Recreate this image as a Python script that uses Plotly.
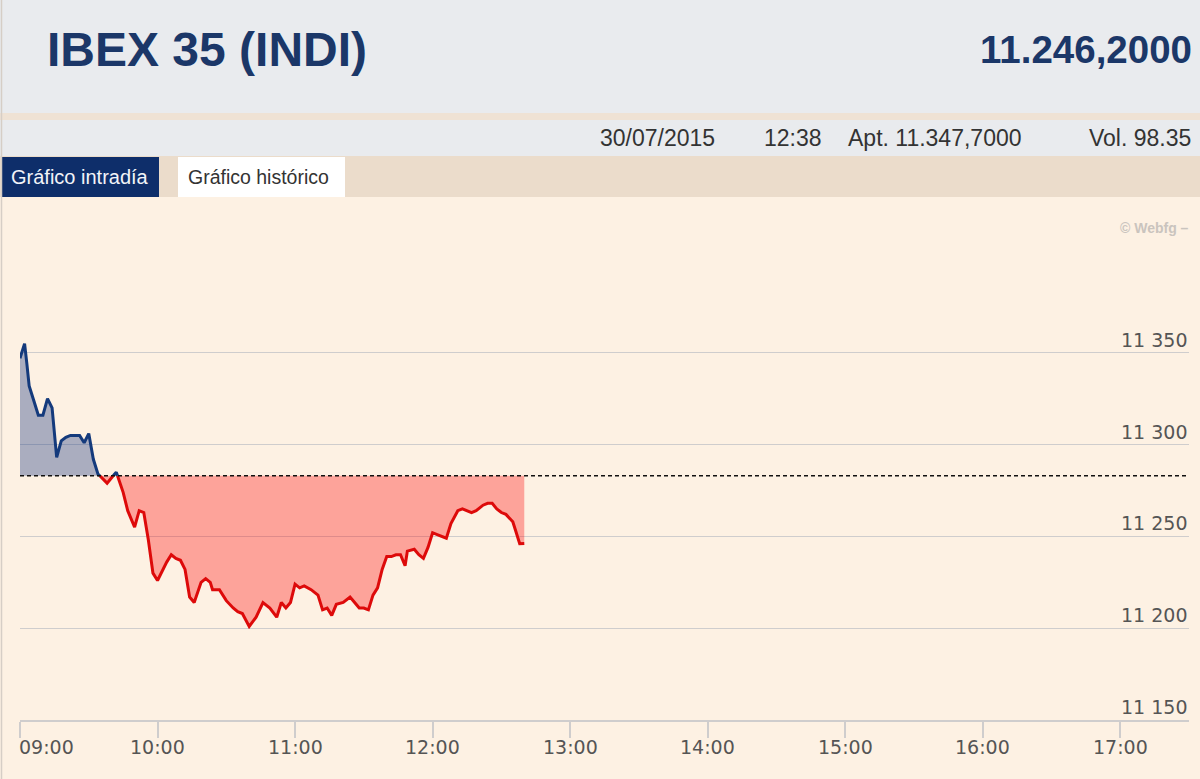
import plotly.graph_objects as go
import pandas as pd

# ---------------- data ----------------
day = "2015-07-30"
times = ["09:00", "09:02", "09:03", "09:04", "09:06", "09:08", "09:10", "09:12", "09:14", "09:15",
         "09:16", "09:18", "09:20", "09:22", "09:24", "09:26", "09:28", "09:30", "09:32", "09:34",
         "09:38", "09:42", "09:45", "09:47", "09:50", "09:52", "09:54", "09:56", "09:58", "10:00",
         "10:03", "10:04", "10:06", "10:08", "10:10", "10:12", "10:14", "10:16", "10:19", "10:21",
         "10:23", "10:24", "10:27", "10:30", "10:33", "10:35", "10:37", "10:40", "10:43", "10:46",
         "10:49", "10:52", "10:54", "10:56", "10:58", "11:00", "11:02", "11:04", "11:07", "11:09",
         "11:10", "11:12", "11:14", "11:16", "11:18", "11:21", "11:24", "11:26", "11:28", "11:30",
         "11:32", "11:34", "11:36", "11:38", "11:40", "11:42", "11:44", "11:46", "11:48", "11:49",
         "11:52", "11:54", "11:56", "11:58", "12:00", "12:02", "12:04", "12:06", "12:08", "12:11",
         "12:13", "12:15", "12:17", "12:19", "12:22", "12:24", "12:26", "12:28", "12:30", "12:32",
         "12:35", "12:36", "12:38", "12:40"]
values = [11347, 11355, 11344, 11332, 11324, 11316, 11316, 11325, 11320, 11308,
          11293, 11302, 11304, 11305, 11305, 11305, 11301, 11306, 11292, 11284,
          11279, 11285, 11274, 11264, 11255, 11264, 11263, 11248, 11230, 11226,
          11234, 11236, 11240, 11238, 11237, 11232, 11217, 11214, 11225, 11227,
          11225, 11221, 11221, 11215, 11211, 11209, 11208, 11201, 11206, 11214,
          11211, 11206, 11214, 11211, 11214, 11224, 11222, 11223, 11221, 11219,
          11218, 11210, 11211, 11207, 11213, 11214, 11217, 11214, 11211, 11211,
          11210, 11218, 11222, 11232, 11239, 11239, 11240, 11240, 11234, 11242,
          11243, 11240, 11238, 11244, 11252, 11251, 11250, 11249, 11257, 11264,
          11265, 11264, 11263, 11264, 11267, 11268, 11268, 11265, 11263, 11262,
          11258, 11254, 11246, 11246.2]
prev_close = 11283

x_tick_times = ["09:00", "10:00", "11:00", "12:00", "13:00", "14:00", "15:00", "16:00", "17:00"]
y_grid_vals = [11150, 11200, 11250, 11300, 11350, 11400]
y_label_vals = [11150, 11200, 11250, 11300, 11350]
y_label_text = ["11 150", "11 200", "11 250", "11 300", "11 350"]
x_range = ["09:00", "17:30"]

title_text = "IBEX 35 (INDI)"
last_text = "11.246,2000"
info_texts = ["30/07/2015", "12:38", "Apt. 11.347,7000", "Vol. 98.35"]
tab_texts = ["Gráfico intradía", "Gráfico histórico"]
credit_text = "© Webfg –"

# ---------------- styles ----------------
BG = "#FDF1E3"
HEAD_BG = "#E9EBEE"
TAB_ROW_BG = "#EBDCCB"
NAVY = "#0E2E6A"
BLUE_LINE = "#143A7C"
BLUE_FILL = "rgba(26,58,130,0.37)"
RED_LINE = "#DD0A0A"
RED_FILL = "rgba(255,0,0,0.32)"
GRID = "#CFCDCD"
W, H = 1200, 779
ML, MR, MT, MB = 20, 11, 261, 59
PW = W - ML - MR
PH = H - MT - MB


def PX(px):
    return (px - ML) / PW


def PY(py):
    return (H - MB - py) / PH


t = pd.to_datetime([f"{day} {s}" for s in times])

# insert crossings with the previous close so colours switch exactly at the line
pts_t, pts_v = [], []
for i in range(len(values)):
    if i > 0 and (values[i - 1] - prev_close) * (values[i] - prev_close) < 0:
        f = (prev_close - values[i - 1]) / (values[i] - values[i - 1])
        pts_t.append(t[i - 1] + (t[i] - t[i - 1]) * f)
        pts_v.append(prev_close)
    pts_t.append(t[i])
    pts_v.append(values[i])

above = [max(v, prev_close) for v in pts_v]
below = [min(v, prev_close) for v in pts_v]
above_line = [v if v >= prev_close else None for v in pts_v]
below_line = [v if v <= prev_close else None for v in pts_v]
base = [prev_close] * len(pts_v)

fig = go.Figure()
fig.add_trace(go.Scatter(x=pts_t, y=base, mode="lines", line=dict(width=0), hoverinfo="skip", showlegend=False))
fig.add_trace(go.Scatter(x=pts_t, y=above, mode="lines", line=dict(width=0), fill="tonexty",
                         fillcolor=BLUE_FILL, hoverinfo="skip", showlegend=False))
fig.add_trace(go.Scatter(x=pts_t, y=base, mode="lines", line=dict(width=0), hoverinfo="skip", showlegend=False))
fig.add_trace(go.Scatter(x=pts_t, y=below, mode="lines", line=dict(width=0), fill="tonexty",
                         fillcolor=RED_FILL, hoverinfo="skip", showlegend=False))
fig.add_trace(go.Scatter(x=pts_t, y=below_line, mode="lines", connectgaps=False,
                         line=dict(color=RED_LINE, width=3), showlegend=False))
fig.add_trace(go.Scatter(x=pts_t, y=above_line, mode="lines", connectgaps=False,
                         line=dict(color=BLUE_LINE, width=3), showlegend=False))

shapes = []


def rect(x0, y0, x1, y1, color):
    shapes.append(dict(type="rect", xref="paper", yref="paper", x0=PX(x0), x1=PX(x1), y0=PY(y1), y1=PY(y0),
                       fillcolor=color, line=dict(width=0), layer="below"))


rect(-2, -2, 1202, 114, HEAD_BG)
rect(-2, 113, 1202, 120, "#EFE2D4")
rect(-2, 120, 1202, 156, HEAD_BG)
rect(-2, 156, 1202, 197, TAB_ROW_BG)
rect(2, 157, 159, 197, NAVY)
rect(178, 157, 345, 197, "#FFFFFF")
shapes.append(dict(type="line", xref="paper", yref="paper", x0=PX(1.5), x1=PX(1.5), y0=PY(781), y1=PY(-2),
                   line=dict(color="#D6CEC6", width=1.5), layer="below"))
# previous close dashed line
shapes.append(dict(type="line", xref="paper", yref="y", x0=0, x1=1, y0=prev_close, y1=prev_close,
                   line=dict(color="#111111", width=1.5, dash="4px,3px"), layer="above"))

ann = []
HF = "Arial, Liberation Sans, sans-serif"
AF = "DejaVu Sans, Verdana, sans-serif"
ann.append(dict(xref="paper", yref="paper", x=PX(45), y=PY(49), xanchor="left", yanchor="middle",
                text=f"<b>{title_text}</b>", showarrow=False, font=dict(family=HF, size=48, color="#1B3768")))
ann.append(dict(xref="paper", yref="paper", x=PX(978), y=PY(49), xanchor="left", yanchor="middle",
                text=f"<b>{last_text}</b>", showarrow=False, font=dict(family=HF, size=38.5, color="#1B3768")))
for txt, px in zip(info_texts, [598, 762, 846, 1087]):
    ann.append(dict(xref="paper", yref="paper", x=PX(px), y=PY(138), xanchor="left", yanchor="middle",
                    text=txt, showarrow=False, font=dict(family=HF, size=23, color="#333333")))
ann.append(dict(xref="paper", yref="paper", x=PX(9), y=PY(177), xanchor="left", yanchor="middle",
                text=tab_texts[0], showarrow=False, font=dict(family=HF, size=20, color="#F2F4F8")))
ann.append(dict(xref="paper", yref="paper", x=PX(186), y=PY(177), xanchor="left", yanchor="middle",
                text=tab_texts[1], showarrow=False, font=dict(family=HF, size=19.5, color="#333333")))
ann.append(dict(xref="paper", yref="paper", x=PX(1191), y=PY(228), xanchor="right", yanchor="middle",
                text=f"<b>{credit_text}</b>", showarrow=False, font=dict(family=HF, size=14, color="#CAC4BE")))

for v, txt in zip(y_label_vals, y_label_text):
    ann.append(dict(xref="paper", yref="y", x=1, y=v, xanchor="right", yanchor="bottom", yshift=0,
                    text=txt, showarrow=False, font=dict(family=AF, size=19, color="#555555")))
for i, s in enumerate(x_tick_times):
    ann.append(dict(xref="x", yref="paper", x=pd.Timestamp(f"{day} {s}"), y=0,
                    xanchor="left" if i == 0 else "center", xshift=-3 if i == 0 else 0,
                    yanchor="top", yshift=-14, text=s, showarrow=False,
                    font=dict(family=AF, size=19, color="#555555")))

fig.update_layout(
    width=W, height=H, autosize=False,
    margin=dict(l=ML, r=MR, t=MT, b=MB, pad=0),
    paper_bgcolor=BG, plot_bgcolor=BG,
    shapes=shapes, annotations=ann, showlegend=False,
    xaxis=dict(type="date", range=[f"{day} {x_range[0]}", f"{day} {x_range[1]}"],
               tickvals=[pd.Timestamp(f"{day} {s}") for s in x_tick_times], showticklabels=False,
               showgrid=False, zeroline=False, showline=True, linecolor=GRID, linewidth=1.5,
               ticks="outside", ticklen=16, tickcolor=GRID, tickwidth=1.5, fixedrange=True),
    yaxis=dict(range=[y_grid_vals[0], y_grid_vals[-1]], tickvals=y_grid_vals, showticklabels=False,
               showgrid=True, gridcolor=GRID, gridwidth=1, zeroline=False, showline=False,
               ticks="", fixedrange=True),
)

fig.write_html("out.html", config={"displayModeBar": False},
               post_script="document.body.style.margin='0';document.body.style.overflow='hidden';")
